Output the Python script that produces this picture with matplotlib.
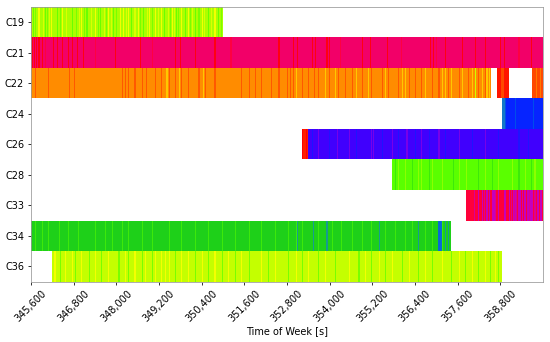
import numpy as np
import matplotlib
matplotlib.use("Agg")
import matplotlib.pyplot as plt
from matplotlib.colors import LinearSegmentedColormap
from matplotlib.ticker import FuncFormatter

# ---------------- data ----------------
satellites = ["C19", "C21", "C22", "C24", "C26", "C28", "C33", "C34", "C36"]
t_start, t_end, epoch = 345600, 360000, 30
tick_values = [345600, 346800, 348000, 349200, 350400, 351600, 352800,
               354000, 355200, 356400, 357600, 358800]

# colour scale (value -> colour)
cmap_pos = [0.0, 0.06, 0.09, 0.13, 0.167, 0.22, 0.27, 0.33, 0.42, 0.5, 0.58,
            0.64, 0.70, 0.77, 0.83, 0.92, 0.965, 1.0]
cmap_col = ['#ff0000', '#ff5a00', '#ff8c00', '#ffc800', '#ffff00', '#aaff00',
            '#5aff00', '#1ed214', '#18b070', '#1478c8', '#0060e0', '#0028ff',
            '#3c00ff', '#8000e6', '#be00c8', '#f0006e', '#ff003c', '#ff0000']

# segments: (start, end, base value); stripes: (value, [times])
c19_segments = [(345600, 351000, 0.22)]
c19_stripes = [
    (0.175, [345810, 346170, 346470, 347010, 347400, 347760, 348090, 348180, 348330,
             348600, 348930, 349080, 349260, 349560, 349830, 350010, 350400, 350760]),
    (0.19, [345930, 346590, 347280, 347640, 348510, 349170, 349440, 350130, 350670,
            346110, 346950, 347850, 348270, 348870, 349620, 350460]),
    (0.26, [345660, 345990, 346320, 346740, 347160, 347550, 347910, 348420, 348750,
            349350, 349680, 349920, 350220, 350580, 350850]),
    (0.25, [346050, 346860, 347490, 348000, 348990, 349740, 350310, 350940,
            345720, 346410, 347100, 347700, 348660, 349500, 350070]),
]

c21_segments = [(345600, 360000, 0.925)]
c21_stripes = [
    (0.99, [345630, 345690, 345750, 345810, 345900, 346230, 346320, 346470, 346650,
            346740, 346890, 347070, 347970, 348660, 349650, 349800, 350220, 350760,
            352560, 352980, 353070, 353490, 353580, 353910, 353970, 354900, 355140,
            355620, 356820, 356910, 357240, 357720, 358080, 358380, 358800, 358890,
            359670]),
    (0.96, [346000, 347400, 349000, 351200, 354300, 356000, 357000, 359300]),
]

c22_segments = [(345600, 358530, 0.09), (358710, 359040, 0.015), (359700, 360000, 0.05)]
c22_stripes = [
    (0.06, [345711, 346086, 346695, 346789, 348148, 348241, 348335, 348522, 348710,
            348850, 349085, 349272, 349459, 349647, 349834, 350022, 350303, 350490,
            350771, 351521, 351708, 351896, 352083, 352364, 352552,
            352795, 352889, 352982, 353217, 353404, 353545, 353685, 353966, 354247,
            354435, 354622, 354903, 355184, 355465, 355653, 355934, 356215, 356402,
            356590, 356871, 357058, 357339, 357620, 357901, 358183, 358370]),
    (0.13, [349400, 349780, 350430, 353029, 353872, 354154, 354763, 355091, 355559,
            356028, 356121, 356684, 357152, 357246, 357433, 357714, 357995, 358276,
            358417, 358483]),
    (0.2, [358090]),
    (0.05, [358820, 358860]),
    (0.08, [359790, 359900]),
]

c24_segments = [(358860, 360000, 0.645)]
c24_stripes = [
    (0.5, [358860, 358890]),
    (0.6, [358920, 359220, 359730]),
]

c26_segments = [(353220, 353400, 0.02), (353400, 360000, 0.705)]
c26_stripes = [
    (0.0, [353220, 353340]),
    (0.76, [353685, 354200, 354528, 355184, 355231, 355746, 356168, 356590, 357058,
            357620, 358370]),
    (0.67, [353498, 353966, 354763, 355465, 355934, 356402, 356777, 357246, 357995,
            358745, 359307, 359588]),
]

c28_segments = [(355740, 360000, 0.27)]
c28_stripes = [
    (0.24, [355934, 356121, 356496, 356590, 356871, 357152, 357620, 357855, 358370,
            358745, 359120, 359494, 359775]),
    (0.30, [355840, 356309, 356777, 357480, 358183, 358557, 359307, 359682]),
]

c33_segments = [(357840, 360000, 0.965)]
c33_stripes = [
    (0.84, [358183, 358277, 358417, 358483, 358576, 358745, 358885, 358932, 359213,
            359260, 359307, 359354, 359401, 359448, 359541, 359682, 359822, 359916,
            358560, 358620, 359030, 359150, 359480, 359590, 359640, 359710, 359860,
            359950]),
    (0.88, [358340, 358650, 359100, 359600, 359760, 358050, 359180, 359240]),
]

c34_segments = [(345600, 357430, 0.335)]
c34_stripes = [
    (0.30, [345711, 345899, 346086, 346367, 346648, 346930, 347398, 347679, 347867,
            348148, 348335, 348710, 348991, 349459, 349834, 350209, 350584, 350959,
            351334, 351708, 352083, 352458, 352842, 353029, 353217, 353685, 354060,
            354341, 354622, 354903, 355184, 355559, 355840, 356121, 356309, 356684,
            356871, 357152]),
    (0.45, [353076, 353520, 353919, 355372, 356496, 357246, 357339]),
    (0.55, [357058, 357088, 357118]),
]

c36_segments = [(346200, 358860, 0.205)]
c36_stripes = [
    (0.175, [346274, 346555, 346742, 347023, 347398, 347773, 348241, 348522, 348804,
             349085, 349272, 349366, 349459, 349834, 350022, 350397, 350771, 351146,
             351521, 352083, 352458, 353029, 353404, 353872, 354528, 354997, 355372,
             355746, 356215, 356684, 357152, 357620, 357995, 358370, 358651]),
    (0.25, [346414, 346836, 347211, 347585, 348054, 348335, 348710, 348991, 349647,
            350209, 350584, 350959, 351334, 351708, 352270, 352842, 353217, 353685,
            354154, 354809, 355184, 355559, 356028, 356496, 356871, 357433, 357808,
            358183, 358511, 358745]),
]

rows_segments = [c19_segments, c21_segments, c22_segments, c24_segments, c26_segments,
                 c28_segments, c33_segments, c34_segments, c36_segments]
rows_stripes = [c19_stripes, c21_stripes, c22_stripes, c24_stripes, c26_stripes,
                c28_stripes, c33_stripes, c34_stripes, c36_stripes]

# ---------------- build grid ----------------
edges = np.arange(t_start, t_end + epoch, epoch)
centers = edges[:-1] + epoch / 2
grid = np.full((len(satellites), len(centers)), np.nan)
for r, (segs, stripes) in enumerate(zip(rows_segments, rows_stripes)):
    for a, b, v in segs:
        grid[r, (centers >= a) & (centers < b)] = v
    for v, times in stripes:
        for t in times:
            m = (centers >= t) & (centers < t + epoch) & ~np.isnan(grid[r])
            grid[r, m] = v

cmap = LinearSegmentedColormap.from_list("sat", list(zip(cmap_pos, cmap_col)), N=512)
cmap.set_bad("white")

# ---------------- plot ----------------
dpi = 70
fig = plt.figure(figsize=(550 / dpi, 342 / dpi), dpi=dpi)
ax = fig.add_axes([31 / 550, 1 - 281.7 / 342, (543 - 31) / 550, (281.7 - 6.7) / 342])
ax.pcolormesh(edges, np.arange(len(satellites) + 1), np.ma.masked_invalid(grid),
              cmap=cmap, vmin=0, vmax=1, shading="flat", edgecolors="none",
              antialiased=False, rasterized=True)
ax.set_xlim(t_start, t_end)
ax.set_ylim(len(satellites), 0)
ax.set_yticks(np.arange(len(satellites)) + 0.5)
ax.set_yticklabels(satellites)
ax.set_xticks(tick_values)
ax.xaxis.set_major_formatter(FuncFormatter(lambda x, p: f"{x:,.0f}"))
plt.setp(ax.get_xticklabels(), rotation=45)
ax.set_xlabel("Time of Week [s]", labelpad=2)
for s in ax.spines.values():
    s.set_color("#999999")

fig.savefig("out.png", dpi=dpi)
